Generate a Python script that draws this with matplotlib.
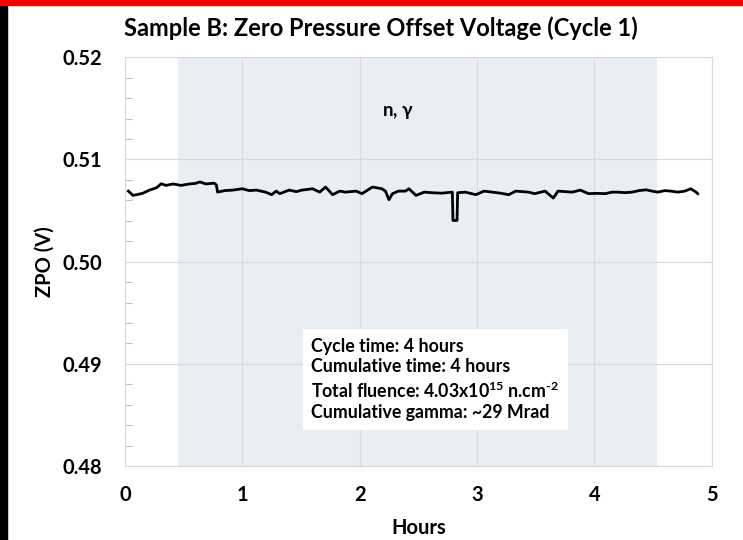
import matplotlib
matplotlib.use('Agg')

import matplotlib.pyplot as plt
from matplotlib.patches import Rectangle
from matplotlib.ticker import MultipleLocator

plt.rcParams['font.family'] = ['Lato', 'DejaVu Sans']
plt.rcParams['mathtext.fontset'] = 'custom'
plt.rcParams['mathtext.rm'] = 'Lato:bold'
plt.rcParams['mathtext.it'] = 'Lato:bold'
plt.rcParams['mathtext.bf'] = 'Lato:bold'

# ---- data (hours, volts) ----
hours = [0.03, 0.07, 0.12, 0.155, 0.21, 0.27, 0.31, 0.35, 0.41, 0.48, 0.55, 0.60,
         0.64, 0.69, 0.76, 0.78, 0.79, 0.85, 0.92, 1.00, 1.06, 1.12, 1.20, 1.25,
         1.29, 1.32, 1.40, 1.46, 1.51, 1.60, 1.66, 1.71, 1.77, 1.83, 1.88, 1.97,
         2.02, 2.11, 2.19, 2.22, 2.25, 2.28, 2.33, 2.39, 2.42, 2.48, 2.55, 2.62,
         2.70, 2.79, 2.795, 2.80, 2.83, 2.835, 2.90, 2.99, 3.06, 3.13, 3.20, 3.27,
         3.33, 3.44, 3.49, 3.58, 3.65, 3.69, 3.75, 3.81, 3.88, 3.95, 4.02, 4.09,
         4.15, 4.20, 4.26, 4.32, 4.38, 4.44, 4.49, 4.54, 4.60, 4.65, 4.71, 4.77,
         4.82, 4.86, 4.88]
zpo = [0.5069, 0.50648, 0.5066, 0.5067, 0.5070, 0.50723, 0.50762, 0.50746, 0.5076,
       0.50746, 0.5076, 0.50765, 0.5078, 0.5076, 0.50768, 0.5075, 0.5068, 0.50695,
       0.5070, 0.50713, 0.50695, 0.5070, 0.5068, 0.50655, 0.5069, 0.50665, 0.5070,
       0.50685, 0.5070, 0.50713, 0.5068, 0.5073, 0.50655, 0.5069, 0.5068, 0.5069,
       0.50665, 0.5073, 0.50713, 0.5069, 0.50606, 0.50665, 0.5069, 0.5069, 0.50713,
       0.50648, 0.5068, 0.50674, 0.5067, 0.5068, 0.50403, 0.50403, 0.50403, 0.50674,
       0.5068, 0.50655, 0.5069, 0.5068, 0.5067, 0.50655, 0.5069, 0.5068, 0.50665,
       0.5069, 0.50622, 0.5069, 0.50685, 0.5068, 0.5070, 0.50665, 0.50668, 0.50665,
       0.5068, 0.5068, 0.50675, 0.5068, 0.50695, 0.50703, 0.5069, 0.5068, 0.50695,
       0.5069, 0.5068, 0.5069, 0.50713, 0.50685, 0.50665]

irradiation_start = 0.45
irradiation_end = 4.53

info_lines = ['Cycle time: 4 hours',
              'Cumulative time: 4 hours',
              r'Total fluence: 4.03x10$^{15}$ n.cm$^{\text{-2}}$',
              'Cumulative gamma: ~29 Mrad']

fig = plt.figure(figsize=(7.43, 5.40), dpi=100)
ax = fig.add_axes([0.168, 0.137, 0.790, 0.757])

# frame decorations of the screenshot
fig.patches.append(Rectangle((0, 0), 0.0095, 1, transform=fig.transFigure,
                             color='black', zorder=0))
fig.patches.append(Rectangle((0, 0.991), 1, 0.009, transform=fig.transFigure,
                             color='#ff0000', zorder=1))

ax.axvspan(irradiation_start, irradiation_end, color='#e9edf6', zorder=0, lw=0)
ax.plot(hours, zpo, color='black', lw=2.0, zorder=3)

ax.set_xlim(0, 5)
ax.set_ylim(0.48, 0.52)
ax.xaxis.set_major_locator(MultipleLocator(1))
ax.yaxis.set_major_locator(MultipleLocator(0.01))
ax.yaxis.set_minor_locator(MultipleLocator(0.002))
ax.yaxis.set_major_formatter(plt.FuncFormatter(lambda v, p: f'{v:.2f}'))

ax.grid(True, which='major', color='#d9d9d9', lw=0.8, zorder=1)
for s in ax.spines.values():
    s.set_color('#d9d9d9')
    s.set_linewidth(0.8)
ax.tick_params(axis='both', which='major', length=0, labelsize=14.5, pad=16)
ax.tick_params(axis='y', which='minor', direction='in', length=5, color='#bfbfbf', width=0.8)
for lab in ax.get_xticklabels() + ax.get_yticklabels():
    lab.set_fontweight('bold')
ax.tick_params(axis='x', pad=14)

ax.set_xlabel('Hours', fontsize=14.5, fontweight='bold', labelpad=9)
ax.set_ylabel('ZPO (V)', fontsize=14.5, fontweight='bold', labelpad=6)
fig.text(0.512, 0.947, 'Sample B: Zero Pressure Offset Voltage (Cycle 1)',
         fontsize=17, fontweight='bold', ha='center', va='center')

ax.text(2.33, 0.5146, r'n, $\gamma$', fontsize=13.5, fontweight='bold',
        ha='center', va='center', family=['Lato', 'DejaVu Sans'])

ax.text(0.318, 0.212, '\n'.join(info_lines), transform=ax.transAxes,
        fontsize=12.8, fontweight='bold', ha='left', va='center', linespacing=1.26,
        bbox=dict(facecolor='white', edgecolor='none', pad=6), zorder=4)

fig.savefig('out.png', dpi=100)
